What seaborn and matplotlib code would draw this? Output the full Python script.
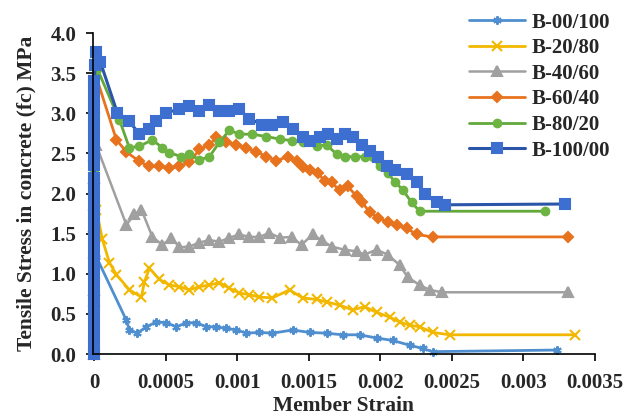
import matplotlib
matplotlib.use("Agg")
import matplotlib.pyplot as plt
import seaborn as sns

# strain / stress for each mix
s_00_100 = [0, 0, 0, 0, 0.000014, 0.000224, 0.000245, 0.000301, 0.000364, 0.000434, 0.000504, 0.000574,
            0.000644, 0.000714, 0.000784, 0.000854, 0.000924, 0.000994, 0.001064, 0.001155, 0.001246,
            0.001386, 0.001505, 0.001624, 0.001736, 0.001855, 0.001974, 0.002086, 0.002205, 0.002296,
            0.002366, 0.003234]
f_00_100 = [0, 0.3, 0.6, 0.9, 1.21, 0.42, 0.3, 0.26, 0.34, 0.4, 0.39, 0.34,
            0.39, 0.39, 0.34, 0.34, 0.32, 0.3, 0.26, 0.27, 0.26,
            0.3, 0.27, 0.26, 0.24, 0.24, 0.2, 0.17, 0.11, 0.07,
            0.03, 0.05]

s_20_80 = [0, 0, 0, 0, 0.000014, 0.000056, 0.000105, 0.000154, 0.000245, 0.000329, 0.00035, 0.000385,
           0.000455, 0.000525, 0.000595, 0.000665, 0.000735, 0.000805, 0.000875, 0.000945, 0.001015,
           0.001085, 0.001155, 0.001246, 0.001365, 0.001456, 0.001554, 0.001624, 0.001715, 0.001806,
           0.00189, 0.001974, 0.002065, 0.002135, 0.002205, 0.002275, 0.002366, 0.002485, 0.00336]
f_20_80 = [0, 0.5, 1.0, 1.5, 1.8, 1.43, 1.14, 0.99, 0.8, 0.71, 0.9, 1.07,
           0.93, 0.86, 0.84, 0.8, 0.84, 0.86, 0.89, 0.82, 0.76,
           0.74, 0.71, 0.7, 0.8, 0.7, 0.68, 0.65, 0.61, 0.55,
           0.59, 0.52, 0.46, 0.4, 0.36, 0.34, 0.27, 0.24, 0.24]

s_40_60 = [0, 0, 0, 0, 0.000014, 0.000224, 0.00028, 0.000329, 0.000406, 0.000476, 0.000539, 0.000595,
           0.000665, 0.000735, 0.000805, 0.000875, 0.000945, 0.001015, 0.001085, 0.001155, 0.001225,
           0.001295, 0.001379, 0.001449, 0.001526, 0.001589, 0.001659, 0.00175, 0.001834, 0.00189,
           0.001974, 0.002051, 0.002135, 0.002191, 0.002275, 0.002345, 0.002429, 0.003311]
f_40_60 = [0, 0.8, 1.6, 2.2, 2.6, 1.61, 1.74, 1.8, 1.46, 1.36, 1.45, 1.33,
           1.34, 1.39, 1.42, 1.4, 1.45, 1.49, 1.46, 1.46, 1.51,
           1.45, 1.46, 1.36, 1.49, 1.42, 1.34, 1.3, 1.28, 1.24,
           1.3, 1.24, 1.11, 0.96, 0.86, 0.8, 0.77, 0.77]

s_60_40 = [0, 0, 0, 0, 0, 0, 0.000014, 0.000154, 0.000224, 0.000315, 0.000385, 0.000455, 0.000525,
           0.000595, 0.000665, 0.000735, 0.000805, 0.000854, 0.000924, 0.000994, 0.001064, 0.001134,
           0.001204, 0.001274, 0.001351, 0.001414, 0.001456, 0.001505, 0.001561, 0.00161, 0.001659,
           0.001715, 0.001771, 0.001834, 0.001869, 0.001925, 0.001981, 0.002051, 0.002114, 0.002184,
           0.002254, 0.002366, 0.003311]
f_60_40 = [0, 0.6, 1.2, 1.8, 2.4, 3.0, 3.45, 2.67, 2.52, 2.4, 2.34, 2.34, 2.32,
           2.34, 2.39, 2.55, 2.61, 2.7, 2.64, 2.61, 2.57, 2.52,
           2.46, 2.41, 2.46, 2.4, 2.33, 2.3, 2.26, 2.16, 2.14,
           2.04, 2.09, 1.97, 1.9, 1.77, 1.7, 1.65, 1.61, 1.57,
           1.49, 1.46, 1.46]

s_80_20 = [0, 0, 0, 0, 0, 0, 0, 0, 0, 0.000021, 0.000175, 0.000245, 0.000315, 0.000406, 0.000476,
           0.000525, 0.000609, 0.000665, 0.000735, 0.000805, 0.000875, 0.000945, 0.001015, 0.001106,
           0.001204, 0.001295, 0.001379, 0.001456, 0.001554, 0.001624, 0.001694, 0.00175, 0.00182,
           0.00189, 0.001946, 0.001995, 0.002051, 0.0021, 0.002156, 0.002219, 0.002275, 0.00315]
f_80_20 = [0, 0.5, 1.0, 1.5, 2.0, 2.3, 2.65, 3.0, 3.3, 3.55, 2.92, 2.57, 2.59, 2.67, 2.57,
           2.51, 2.46, 2.49, 2.42, 2.46, 2.64, 2.79, 2.74, 2.74,
           2.71, 2.68, 2.66, 2.64, 2.59, 2.61, 2.49, 2.46, 2.46,
           2.46, 2.45, 2.34, 2.26, 2.15, 2.05, 1.89, 1.78, 1.78]

s_100_00 = [0] * 24 + [0.000005, 0.000014, 0.000042, 0.00016, 0.000245,
            0.000315, 0.000385, 0.000434, 0.000504, 0.000595, 0.000665, 0.000735, 0.000805, 0.000875,
            0.000945, 0.001015, 0.001085, 0.001176, 0.001246, 0.001316, 0.001386, 0.001456, 0.001505,
            0.001575, 0.001631, 0.001694, 0.00175, 0.001806, 0.001869, 0.001925, 0.001981, 0.002044,
            0.0021, 0.002184, 0.002254, 0.00231, 0.002394, 0.00245, 0.00329]
f_100_00 = [0, 0.1, 0.25, 0.4, 0.55, 0.7, 0.85, 1.0, 1.15, 1.3, 1.45, 1.6, 1.75, 1.9, 2.05, 2.2,
            2.35, 2.5, 2.65, 2.8, 2.95, 3.1, 3.25, 3.4, 3.6, 3.76, 3.64, 3.01, 2.9,
            2.74, 2.8, 2.9, 3.01, 3.05, 3.09, 3.03, 3.11, 3.03,
            3.03, 3.05, 2.93, 2.86, 2.85, 2.89, 2.8, 2.71, 2.65,
            2.7, 2.74, 2.68, 2.74, 2.7, 2.61, 2.53, 2.46, 2.34,
            2.3, 2.24, 2.14, 1.99, 1.89, 1.86, 1.87]

labels = ['B-00/100', 'B-20/80', 'B-40/60', 'B-60/40', 'B-80/20', 'B-100/00']
strains = [s_00_100, s_20_80, s_40_60, s_60_40, s_80_20, s_100_00]
stresses = [f_00_100, f_20_80, f_40_60, f_60_40, f_80_20, f_100_00]
colors = ['#4F8FCF', '#F2B800', '#A0A0A0', '#E8731F', '#62A83B', '#2A55A8']
faces = ['#4F8FCF', '#F2B800', '#A0A0A0', '#E8731F', '#6DB443', '#3D6FD0']
markers = [(6, 2, 0), 'x', '^', 'D', 'o', 's']
msizes = [6, 6.5, 7, 5, 5.5, 6.5]
lwidths = [2, 2, 1.8, 2, 2, 2.2]

sns.set_style('white')
plt.rcParams['font.family'] = ['Liberation Serif', 'DejaVu Serif']
plt.rcParams['font.weight'] = 'bold'

fig, ax = plt.subplots(figsize=(6.28, 4.19), dpi=100)
fig.subplots_adjust(left=0.148, right=0.947, bottom=0.155, top=0.921)

for lab, xs, ys, c, fc, m, ms, lw in zip(labels, strains, stresses, colors, faces, markers, msizes, lwidths):
    sns.lineplot(x=xs, y=ys, ax=ax, color=c, linewidth=lw, marker=m, markersize=ms,
                 markerfacecolor=fc, markeredgecolor=fc, markeredgewidth=1.5,
                 estimator=None, sort=False, label=lab, clip_on=False)

ax.set_xlim(-0.00001, 0.0035)
ax.set_ylim(0, 4.0)
ax.set_xticks([0, 0.0005, 0.001, 0.0015, 0.002, 0.0025, 0.003, 0.0035])
ax.set_xticklabels(['0', '0.0005', '0.001', '0.0015', '0.002', '0.0025', '0.003', '0.0035'])
ax.set_yticks([0, 0.5, 1.0, 1.5, 2.0, 2.5, 3.0, 3.5, 4.0])
ax.set_yticklabels(['0.0', '0.5', '1.0', '1.5', '2.0', '2.5', '3.0', '3.5', '4.0'])
ax.tick_params(axis='both', direction='out', length=5, width=1.2, labelsize=15, color='black',
               bottom=True, left=True)
ax.tick_params(axis='x', pad=9)
ax.tick_params(axis='y', pad=7)
for sp in ['top', 'right']:
    ax.spines[sp].set_visible(False)
for sp in ['left', 'bottom']:
    ax.spines[sp].set_color('black')
    ax.spines[sp].set_linewidth(1.2)

ax.set_xlabel('Member Strain', fontsize=15.5, fontweight='bold', labelpad=2)
ax.set_ylabel('Tensile Stress in concrete (fc) MPa', fontsize=15.5, fontweight='bold', labelpad=10)

leg = ax.legend(loc='upper right', bbox_to_anchor=(0.985, 0.99), bbox_transform=fig.transFigure,
                frameon=False, fontsize=15, handlelength=2.7, handletextpad=0.3, labelspacing=0.27,
                borderaxespad=0)

fig.savefig('out.png', dpi=100)
